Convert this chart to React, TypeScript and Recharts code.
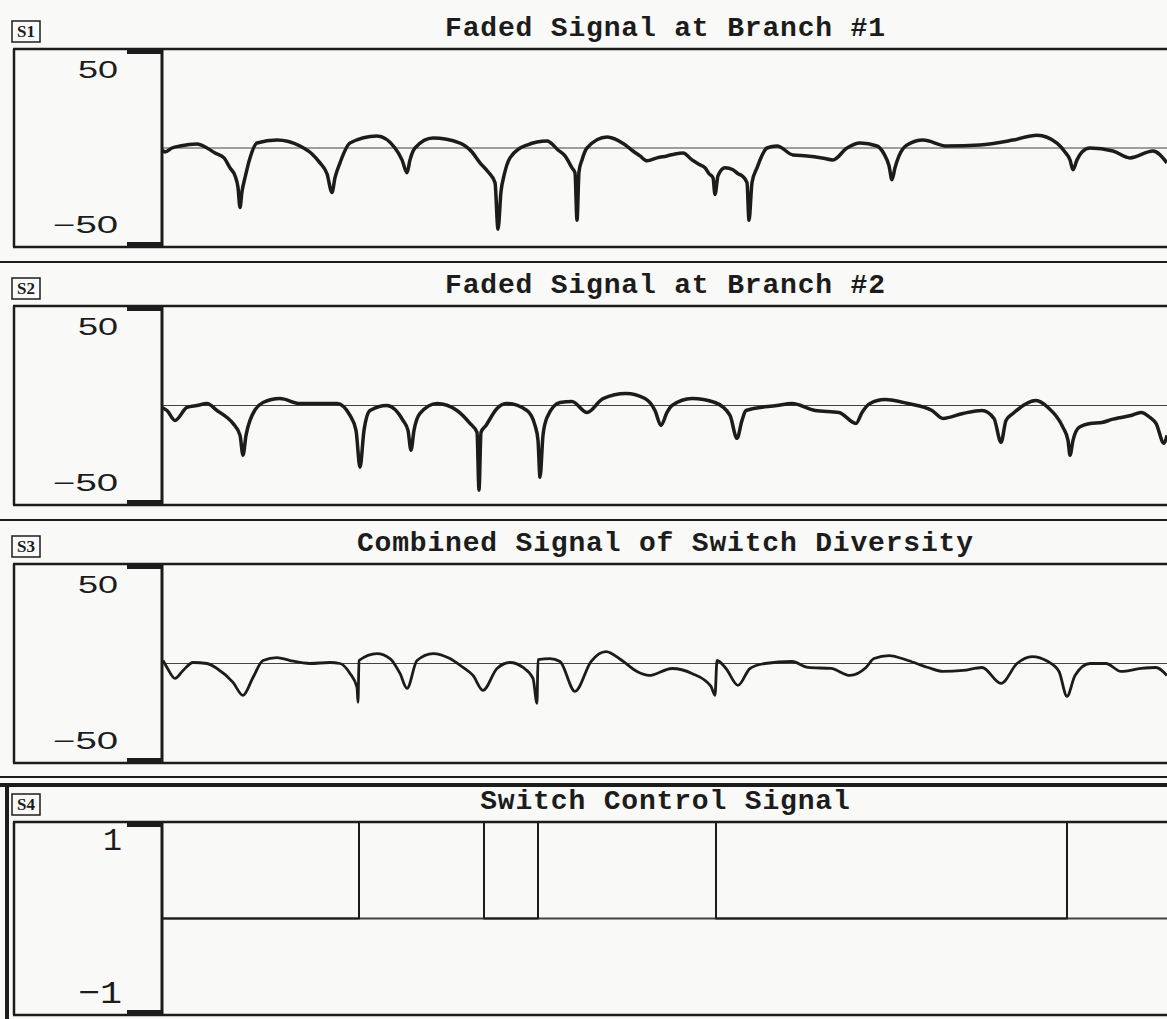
import { LineChart, Line, XAxis, YAxis, ReferenceLine } from "recharts";

type Pt = [number, number];

// [time, level in dB]
const branch1: Pt[] = [
  [0, -1], [3, -2], [10, 0], [18, 1], [35, 2], [45, 0], [53, -2.5], [62, -5], [68, -10], [73, -14], [76, -20],
  [78, -30], [80, -22], [83, -15], [88, -5], [95, 2.5], [115, 4], [138, 1], [150, -3], [158, -7.5], [165, -13],
  [170, -22.5], [173, -15], [178, -7.5], [188, 2.5], [215, 6], [233, 0], [240, -6], [245, -12.5], [248, -6],
  [253, 0], [271, 5], [298, 2.5], [310, -2], [318, -7.5], [326, -12], [333, -17.5], [336, -41], [339, -22],
  [342, -14], [348, -5], [365, 1.5], [385, 3.5], [396, -1], [403, -4], [410, -10], [413, -12.5], [415, -36.5],
  [417, -12], [420, -6], [425, 0], [445, 5.5], [462, 2], [471, -1.5], [478, -4], [485, -6.5], [495, -5],
  [505, -4], [513, -3], [521, -2.5], [530, -6], [538, -8.5], [543, -10], [547, -13], [551, -15], [553, -23.5],
  [556, -14], [563, -10], [571, -11], [576, -13], [580, -14], [585, -17.5], [587, -36.5], [590, -17.5],
  [595, -10], [605, 0], [615, 1], [631, -3.5], [645, -4], [660, -5], [671, -6], [685, 0], [698, 2.5], [715, 1],
  [722, -3], [727, -9], [730, -16], [733, -10], [737, -4], [745, 1.5], [761, 4], [785, 1], [818, 1.5],
  [851, 4], [875, 6.5], [895, 2.5], [903, -2], [908, -6], [911, -11], [915, -6], [920, -2], [928, 0],
  [951, -1.5], [968, -5], [991, -1.5], [1005, -7.5],
];

const branch2: Pt[] = [
  [0, -1], [5, -2.5], [13, -7.5], [25, -1], [35, 0], [45, 1], [55, -2.5], [65, -6], [71, -9], [78, -15],
  [81, -25], [84, -15], [88, -7.5], [101, 1.5], [118, 3.5], [138, 1], [175, 1], [188, -5], [194, -12.5],
  [198, -31], [202, -12.5], [208, -2.5], [225, 0], [241, -7.5], [246, -12.5], [249, -22.5], [252, -12.5],
  [258, -4], [275, 1], [295, -2.5], [308, -9], [315, -13.5], [317, -42.5], [319, -13.5], [324, -10], [335, -1.5],
  [345, 1], [365, -2.5], [373, -10], [376, -17.5], [378, -36], [381, -15], [385, -6], [398, 1.5], [410, 2],
  [425, -3.5], [441, 3.5], [464, 6], [483, 3.5], [493, -2.5], [499, -10], [505, -3.5], [510, 0], [530, 3.5],
  [553, 1.5], [568, -5], [575, -16.5], [580, -7.5], [584, -2.5], [615, 0], [630, 1], [653, -2.5], [677, -3.5],
  [694, -9], [700, -3.5], [708, 1], [723, 3], [746, 1], [770, -2.5], [781, -6.5], [801, -4], [820, -2.5],
  [832, -6.5], [839, -18.5], [844, -7.5], [851, -4], [874, 2.5], [886, -1], [901, -11], [906, -17.5],
  [908, -25], [911, -17.5], [917, -11], [928, -9], [940, -8.5], [950, -7], [959, -6], [969, -5], [979, -3.5],
  [988, -6], [994, -9], [1002, -19], [1005, -15],
];

const combined: Pt[] = [
  [1, 1.5], [5, -2], [13, -7.5], [21, -3.5], [31, 0.5], [45, 0], [55, -2.5], [71, -9.5], [81, -16], [91, -7],
  [101, 1.5], [115, 3], [128, 1.5], [148, 0], [168, 0.5], [178, 0], [188, -5], [195, -12], [196, -19.5],
  [197, 1.5], [215, 5], [228, 2.5], [238, -5], [245, -12.5], [255, 1.5], [271, 5], [288, 2.5], [301, -2],
  [311, -6], [321, -13.5], [335, -2.5], [348, 0.5], [361, -2], [371, -7.5], [375, -20], [376, 2], [388, 2.5],
  [398, 1], [413, -14], [429, 1], [444, 6], [460, 1.5], [475, -4], [487, -6], [510, -2.5], [530, -5],
  [549, -11.5], [553, -16], [555, 1.5], [564, -2.5], [576, -11], [588, -2.5], [603, 0], [630, 1], [646, -2],
  [669, -2.5], [688, -6], [704, -2], [712, 2.5], [727, 4], [746, 1.5], [766, -2], [781, -4], [801, -3.5],
  [820, -2], [839, -10], [855, 0], [870, 3.5], [886, 1], [897, -4], [905, -16.5], [913, -6], [928, 0],
  [944, 0], [959, -4], [979, -2.5], [994, -2], [1005, -6],
];

const switchCtl: Pt[] = [[0, 0], [197, 1], [322, 0], [376, 1], [554, 0], [905, 1], [1005, 1]];

const panelLabels = ["S1", "S2", "S3", "S4"];
const panelTitles = [
  "Faded Signal at Branch #1",
  "Faded Signal at Branch #2",
  "Combined Signal of Switch Diversity",
  "Switch Control Signal",
];
const levelTicks = [-50, 50];
const switchTicks = [-1, 1];

const INK = "#1c1c1c";
const PAGE_W = 1167;
const PAGE_H = 1019;
const LEFT = 13;
const AXIS_W = 149;
const PLOT_W = PAGE_W - LEFT - AXIS_W;

const boxes = [
  { top: 49, h: 198, trace: 3.5 },
  { top: 306, h: 199, trace: 3.5 },
  { top: 564, h: 199, trace: 2.8 },
  { top: 822, h: 193, trace: 2 },
];

const toRows = (pts: Pt[]) => pts.map(([t, v]) => ({ t, v }));

function makeTick(isSwitch: boolean) {
  return (props: any) => {
    const { y, payload } = props;
    const up = payload.value > 0;
    const txt = up ? String(payload.value) : "\u2212" + Math.abs(payload.value);
    const font = isSwitch ? "Liberation Mono" : "Liberation Sans";
    const size = isSwitch ? 32 : 23;
    const len = isSwitch ? (up ? 19 : 44) : up ? 40 : 65;
    const ty = isSwitch ? (up ? y + 28 : y - 12) : up ? y + 29 : y - 14;
    return (
      <g>
        <rect x={114} y={up ? y : y - 5} width={35} height={5} fill={INK} />
        <text
          x={isSwitch ? 109 : 105}
          y={ty}
          textAnchor="end"
          fontFamily={font}
          fontSize={size}
          fill={INK}
          textLength={len}
          lengthAdjust="spacingAndGlyphs"
        >
          {txt}
        </text>
      </g>
    );
  };
}

function Panel({ idx, pts }: { idx: number; pts: Pt[] }) {
  const { top, h, trace } = boxes[idx];
  const isSwitch = idx === 3;
  return (
    <div style={{ position: "absolute", left: LEFT, top }}>
      <LineChart
        width={PAGE_W - LEFT}
        height={h}
        data={toRows(pts)}
        margin={{ top: 0, right: 0, bottom: 0, left: 0 }}
      >
        <XAxis dataKey="t" type="number" domain={[0, PLOT_W]} hide />
        <YAxis
          type="number"
          domain={isSwitch ? [-1, 1] : [-50, 50]}
          ticks={isSwitch ? switchTicks : levelTicks}
          interval={0}
          width={AXIS_W}
          tickLine={false}
          axisLine={{ stroke: INK, strokeWidth: 3 }}
          tick={makeTick(isSwitch)}
        />
        <ReferenceLine y={0} stroke="#444" strokeWidth={isSwitch ? 2 : 1} />
        <Line
          dataKey="v"
          type={isSwitch ? "stepAfter" : "monotone"}
          dot={false}
          stroke={INK}
          strokeWidth={trace}
          strokeLinejoin="round"
          isAnimationActive={false}
        />
      </LineChart>
    </div>
  );
}

export default function App() {
  const series = [branch1, branch2, combined, switchCtl];
  return (
    <div
      style={{
        position: "absolute",
        left: 0,
        top: 0,
        width: PAGE_W,
        height: PAGE_H,
        background: "#f9f9f7",
        overflow: "hidden",
      }}
    >
      <svg width={PAGE_W} height={PAGE_H} style={{ position: "absolute", left: 0, top: 0 }}>
        <line x1={0} x2={PAGE_W} y1={262} y2={262} stroke={INK} strokeWidth={2} />
        <line x1={0} x2={PAGE_W} y1={520} y2={520} stroke={INK} strokeWidth={2} />
        <line x1={0} x2={PAGE_W} y1={777} y2={777} stroke={INK} strokeWidth={2} />
        <line x1={0} x2={PAGE_W} y1={785} y2={785} stroke={INK} strokeWidth={4} />
        <line x1={7} x2={7} y1={785} y2={PAGE_H} stroke={INK} strokeWidth={4} />
        {boxes.map((b, i) => (
          <g key={i}>
            <line x1={LEFT} x2={PAGE_W} y1={b.top} y2={b.top} stroke={INK} strokeWidth={2.5} />
            <line x1={LEFT} x2={PAGE_W} y1={b.top + b.h} y2={b.top + b.h} stroke={INK} strokeWidth={2.5} />
            <line x1={LEFT + 1} x2={LEFT + 1} y1={b.top} y2={b.top + b.h} stroke={INK} strokeWidth={2.5} />
            <rect x={12} y={b.top - 28} width={28} height={21} fill="none" stroke={INK} strokeWidth={1.5} />
            <text
              x={26}
              y={b.top - 12}
              textAnchor="middle"
              fontFamily="Liberation Serif"
              fontWeight="bold"
              fontSize={17}
              fill={INK}
            >
              {panelLabels[i]}
            </text>
            <text
              x={665}
              y={b.top - 13}
              textAnchor="middle"
              fontFamily="Liberation Mono"
              fontWeight="bold"
              fontSize={28}
              fill={INK}
              textLength={panelTitles[i].length * 17.6}
              lengthAdjust="spacing"
            >
              {panelTitles[i]}
            </text>
          </g>
        ))}
      </svg>
      {series.map((pts, i) => (
        <Panel key={i} idx={i} pts={pts} />
      ))}
    </div>
  );
}
